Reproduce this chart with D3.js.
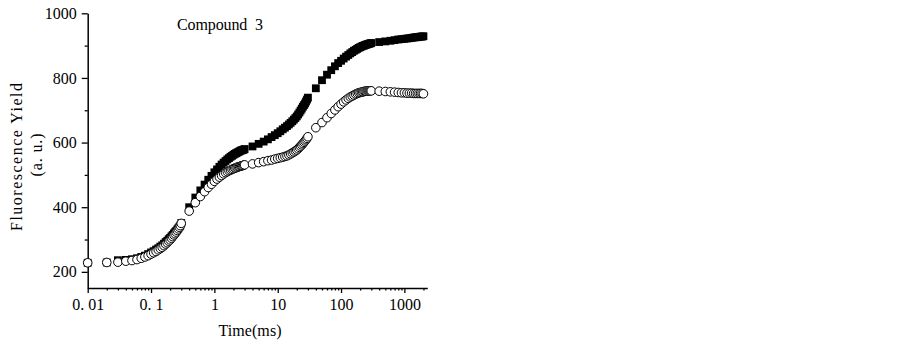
<!DOCTYPE html>
<html>
<head>
<meta charset="utf-8">
<style>
  body { margin: 0; background: #fff; }
  text { font-family: "Liberation Serif", "DejaVu Serif", serif; fill: #000; }
</style>
</head>
<body>
<script src="https://cdn.jsdelivr.net/npm/d3@7/dist/d3.min.js"></script>
<script>
// sampling times (ms), one array per segment of the recording
var timeA = [0.01,0.02,0.03,0.04,0.05,0.06,0.07,0.08,0.09,0.10,0.11,0.12,0.13,0.14,0.15,
             0.16,0.17,0.18,0.19,0.20,0.21,0.22,0.23,0.24,0.25,0.26,0.27,0.28,0.29,0.30];
var timeB = [0.4,0.5,0.6,0.7,0.8,0.9,1.0,1.1,1.2,1.3,1.4,1.5,1.6,1.7,1.8,1.9,2.0,
             2.1,2.2,2.3,2.4,2.5,2.6,2.7,2.8,2.9,3.0];
var timeC = [4,5,6,7,8,9,10,11,12,13,14,15,16,17,18,19,20,21,22,23,24,25,26,27,28,29,30];
var timeD = [40,50,60,70,80,90,100,110,120,130,140,150,160,170,180,190,200,
             210,220,230,240,250,260,270,280,290,300];
var timeE = [400,500,600,700,800,900,1000,1100,1200,1300,1400,1500,1600,1700,1800,1900,2000];

// filled squares
var filledA = [228,229,236,237,239,242,246,250,255,260,264,269,273,278,282,
               287,292,296,301,305,310,314,319,323,327,331,335,339,343,351];
var filledB = [400,430,452,470,485,497,508,517,525,532,538,543,548,552,556,559,562,
               565,567,569,571,573,575,576,577,578,580];
var filledC = [588,596,603,610,617,623,629,635,641,646,651,656,661,666,671,676,681,
               687,693,699,705,711,716,721,727,733,739];
var filledD = [768,793,810,824,836,846,853,860,866,871,876,880,884,887,890,893,895,
               897,899,900,902,903,904,905,906,907,908];
var filledE = [911,913,915,917,919,920,921,922,923,924,925,926,926,927,928,928,929];

// open circles
var openA = [228,229,230,233,235,238,242,246,250,255,259,263,268,272,276,
             281,286,290,295,299,304,309,314,318,323,328,333,338,343,350];
var openB = [388,414,433,448,461,471,480,487,493,498,503,507,510,513,515,517,519,
             521,522,524,525,526,527,528,529,530,531];
var openC = [534,538,541,544,546,549,551,553,555,557,559,562,565,568,571,574,577,
             581,585,589,593,597,601,605,609,613,618];
var openD = [646,662,677,690,701,711,719,726,732,737,741,744,747,750,752,754,755,
             756,757,758,759,759,760,760,760,760,760];
var openE = [759,758,757,756,755,754,754,753,753,753,752,752,752,752,752,752,751];

var xTicks = [0.01,0.1,1,10,100,1000];
var xTickLabels = ["0. 01","0. 1","1","10","100","1000"];
var xMinor = [0.02,0.03,0.04,0.05,0.06,0.07,0.08,0.09,0.2,0.3,0.4,0.5,0.6,0.7,0.8,0.9,
              2,3,4,5,6,7,8,9,20,30,40,50,60,70,80,90,200,300,400,500,600,700,800,900,2000];
var yTicks = [200,400,600,800,1000];
var yMinor = [300,500,700,900];

var times = timeA.concat(timeB, timeC, timeD, timeE);
var filled = filledA.concat(filledB, filledC, filledD, filledE);
var open = openA.concat(openB, openC, openD, openE);

var svg = d3.select("body").append("svg")
    .attr("width", 903)
    .attr("height", 347);

var x = d3.scaleLog().domain([0.01, 2300]).range([87.7, 427.3]);
var y = d3.scaleLinear().domain([150, 1000]).range([288, 13.3]);

// x axis
var gx = svg.append("g").attr("transform", "translate(0,288)");
gx.call(d3.axisBottom(x).tickValues(xTicks)
        .tickFormat((d, i) => xTickLabels[i])
        .tickSize(5).tickSizeOuter(0).tickPadding(6));
gx.append("g").call(d3.axisBottom(x).tickValues(xMinor).tickFormat("").tickSize(2.5))
  .select(".domain").remove();

// y axis
var gy = svg.append("g").attr("transform", "translate(87.7,0)");
gy.call(d3.axisLeft(y).tickValues(yTicks).tickFormat(d3.format("d"))
        .tickSize(6).tickSizeOuter(0).tickPadding(5));
gy.append("g").call(d3.axisLeft(y).tickValues(yMinor).tickFormat("").tickSize(3))
  .select(".domain").remove();

svg.selectAll(".domain").attr("stroke", "#000").attr("stroke-width", 1.5);
svg.selectAll(".tick line").attr("stroke", "#000").attr("stroke-width", 1.3);
svg.selectAll(".tick text").attr("font-size", 16)
   .attr("font-family", "Liberation Serif, serif").attr("fill", "#000");

// squares first, circles on top
var sq = 7.8;
svg.append("g").selectAll("rect")
    .data(times)
    .join("rect")
    .attr("x", (d, i) => x(d) - sq / 2)
    .attr("y", (d, i) => y(filled[i]) - sq / 2)
    .attr("width", sq)
    .attr("height", sq)
    .attr("fill", "#000");

svg.append("g").selectAll("circle")
    .data(times)
    .join("circle")
    .attr("cx", d => x(d))
    .attr("cy", (d, i) => y(open[i]))
    .attr("r", 4.3)
    .attr("fill", "#fff")
    .attr("stroke", "#000")
    .attr("stroke-width", 1);

// texts
svg.append("text")
    .attr("x", 177).attr("y", 29.5)
    .attr("font-size", 16)
    .attr("textLength", 86).attr("lengthAdjust", "spacing")
    .style("white-space", "pre")
    .text("Compound  3");

svg.append("text")
    .attr("x", 250).attr("y", 336)
    .attr("text-anchor", "middle")
    .attr("font-size", 16)
    .attr("textLength", 63).attr("lengthAdjust", "spacing")
    .text("Time(ms)");

svg.append("text")
    .attr("transform", "translate(21.5,157) rotate(-90)")
    .attr("text-anchor", "middle")
    .attr("font-size", 16)
    .attr("textLength", 148).attr("lengthAdjust", "spacing")
    .text("Fluorescence Yield");

svg.append("text")
    .attr("transform", "translate(41.5,155) rotate(-90)")
    .attr("text-anchor", "middle")
    .attr("font-size", 16)
    .attr("textLength", 43).attr("lengthAdjust", "spacing")
    .style("white-space", "pre")
    .text("(a. u.)");
</script>
</body>
</html>
